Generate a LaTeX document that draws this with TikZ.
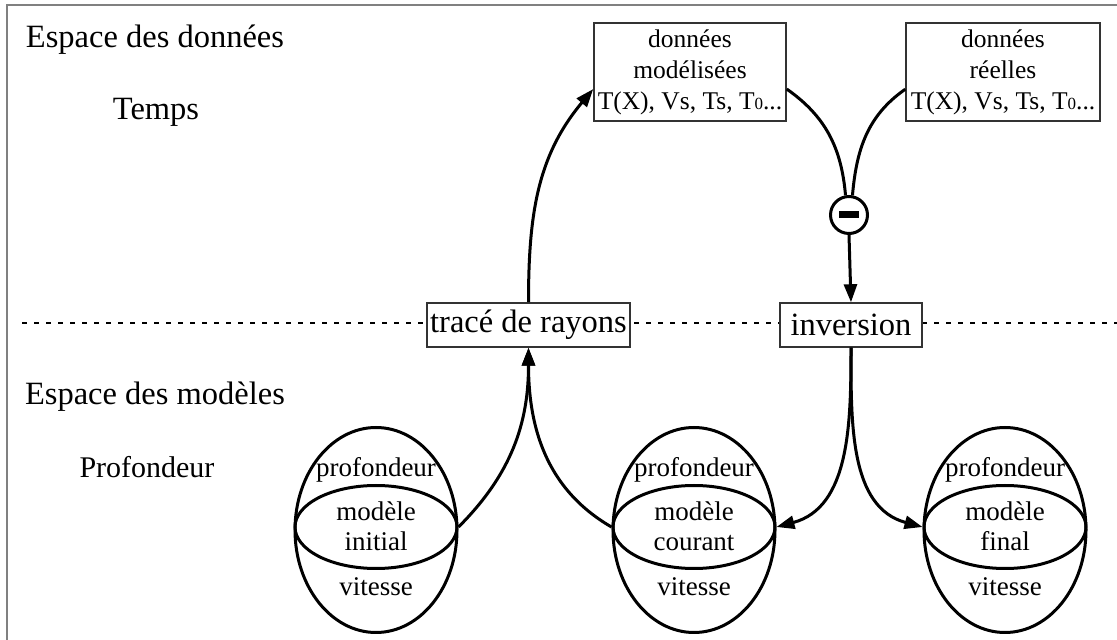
\documentclass[tikz,border=0pt]{standalone}
\usepackage{fontspec}
\setmainfont{Liberation Serif}
\usetikzlibrary{arrows.meta,shapes.geometric}
\newcommand\smallzero{{\fontsize{17}{17}\selectfont 0}}
\begin{document}
\begin{tikzpicture}[x=1pt,y=1pt,
  frame/.style={draw=gray, line width=2.5pt},
  biglbl/.style={font=\fontsize{32.5}{36}\selectfont, inner sep=0, anchor=base},
  databox/.style={draw=black!80, line width=1.5pt, fill=white, inner sep=0, align=center, font=\fontsize{25.5}{31}\selectfont},
  procbox/.style={draw=black!80, line width=1.5pt, fill=white, inner sep=0, font=\fontsize{32.5}{36}\selectfont, minimum height=44pt},
  outerell/.style={ellipse, draw, line width=3pt, minimum width=162pt, minimum height=205pt, inner sep=0},
  innerell/.style={ellipse, draw, line width=3pt, minimum width=162pt, minimum height=83pt, inner sep=0},
  elltext/.style={font=\fontsize{27}{30}\selectfont, inner sep=0, anchor=base},
  conn/.style={line width=3pt},
  arr/.style={conn, -{Triangle[length=18pt,width=13pt]}},
  sepline/.style={line width=2pt, dash pattern=on 5pt off 7pt},
]
\useasboundingbox (0,0) rectangle (1117,640);
% frame
\coordinate (fa) at (7,0);
\coordinate (fb) at (7,635);
\coordinate (fc) at (1117,635);
\draw[frame] (fa) -- (fb) -- (fc);
% separator
\coordinate (da) at (22,317);
\coordinate (db) at (1117,317);
\draw[sepline] (da) -- (db);
% side labels
\node[biglbl] (l1) at (155,592) {Espace des données};
\node[biglbl] (l2) at (156,520) {Temps};
\node[biglbl] (l3) at (155,235) {Espace des modèles};
\node[biglbl, font=\fontsize{30}{34}\selectfont] (l4) at (147,162) {Profondeur};
% data boxes
\node[databox, minimum width=192pt, minimum height=98pt] (mod) at (690,568) {données\\modélisées\\T(X), Vs, Ts, T\smallzero...};
\node[databox, minimum width=194pt, minimum height=98pt] (rel) at (1003,568) {données\\réelles\\T(X), Vs, Ts, T\smallzero...};
% process boxes
\node[procbox, minimum width=203pt] (tr) at (528.5,315) {tracé de rayons};
\node[procbox, minimum width=142pt] (inv) at (851,315) {inversion};
% minus
\node[circle, draw, line width=3pt, minimum size=37pt, inner sep=0, fill=white] (minus) at (849,425) {};
\node[fill=black, minimum width=20pt, minimum height=7pt, inner sep=0] (bar) at (minus.center) {};
% ellipses
\node[outerell] (iniO) at (376,110) {};
\node[innerell] (iniI) at (376,113) {};
\node[elltext] (iniA) at (376,163) {profondeur};
\node[elltext] (iniB) at (376,119) {modèle};
\node[elltext] (iniC) at (376,89) {initial};
\node[elltext] (iniD) at (376,44) {vitesse};
\node[outerell] (curO) at (694,110) {};
\node[innerell] (curI) at (694,113) {};
\node[elltext] (curA) at (694,163) {profondeur};
\node[elltext] (curB) at (694,119) {modèle};
\node[elltext] (curC) at (694,89) {courant};
\node[elltext] (curD) at (694,44) {vitesse};
\node[outerell] (finO) at (1005,110) {};
\node[innerell] (finI) at (1005,113) {};
\node[elltext] (finA) at (1005,163) {profondeur};
\node[elltext] (finB) at (1005,119) {modèle};
\node[elltext] (finC) at (1005,89) {final};
\node[elltext] (finD) at (1005,44) {vitesse};
% connectors
\draw[arr] (iniI.east) to[out=45,in=-90] (tr.south);
\draw[arr] (curI.west) to[out=150,in=-90] (tr.south);
\draw[arr] (tr.north) to[out=90,in=-130] (mod.190);
\draw[conn] (mod.350) to[out=-35,in=95] (minus.100);
\draw[conn] (rel.190) to[out=-145,in=85] (minus.80);
\draw[arr] (minus.south) -- (inv.north);
\draw[arr] (inv.south) to[out=-90,in=15] (curI.east);
\draw[arr] (inv.south) to[out=-90,in=165] (finI.west);
\end{tikzpicture}
\end{document}
